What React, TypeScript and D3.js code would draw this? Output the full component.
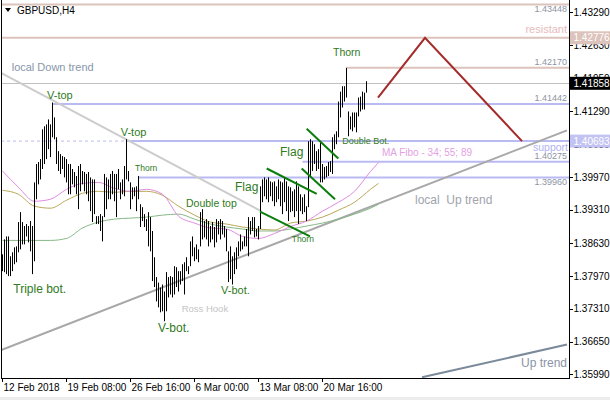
import * as d3 from "d3";

// ---- bars (H4, one per 4 hours, high / low) ----
const barHigh = [
  1.3841, 1.3871, 1.3877, 1.3877, 1.3837, 1.3845, 1.3855, 1.3857, 1.3906, 1.3926,
  1.3906, 1.3898, 1.3902, 1.3898, 1.3908, 1.3898, 1.3986, 1.4023, 1.4027, 1.4033,
  1.4093, 1.4099, 1.4103, 1.4113, 1.4103, 1.4147, 1.4117, 1.4077, 1.4049, 1.4043,
  1.4039, 1.4037, 1.4033, 1.4023, 1.4023, 1.4013, 1.4007, 1.3999, 1.4019, 1.4023,
  1.4009, 1.4007, 1.4003, 1.4007, 1.3996, 1.3992, 1.3992, 1.3918, 1.3918, 1.3922,
  1.3918, 1.4003, 1.3996, 1.3992, 1.4003, 1.4009, 1.4003, 1.4003, 1.4013, 1.3986,
  1.3992, 1.4019, 1.4073, 1.4009, 1.3986, 1.3976, 1.3976, 1.3978, 1.3999, 1.3942,
  1.3936, 1.3922, 1.3912, 1.3926, 1.3916, 1.3888, 1.3835, 1.3795, 1.3784, 1.3774,
  1.378, 1.3766, 1.3805, 1.3795, 1.3797, 1.3795, 1.3817, 1.3815, 1.3807, 1.3807,
  1.3821, 1.3825, 1.3835, 1.3817, 1.3867, 1.3877, 1.3855, 1.3861, 1.3851, 1.3926,
  1.3932, 1.3908, 1.3912, 1.3908, 1.3898, 1.3906, 1.3896, 1.3912, 1.3908, 1.3912,
  1.3908, 1.3898, 1.3892, 1.3847, 1.3857, 1.3837, 1.3845, 1.3855, 1.3867, 1.3881,
  1.3867, 1.3877, 1.3892, 1.3916, 1.3908, 1.3916, 1.3916, 1.3892, 1.3898, 1.3978,
  1.3992, 1.3996, 1.3992, 1.3996, 1.3988, 1.3986, 1.3988, 1.3978, 1.3992, 1.3988,
  1.3986, 1.3996, 1.3988, 1.3978, 1.3976, 1.3968, 1.3972, 1.3988, 1.3978, 1.3962,
  1.3956, 1.3962, 1.3938, 1.4069, 1.4073, 1.4069, 1.4063, 1.4049, 1.4053, 1.4067,
  1.4023, 1.4017, 1.4019, 1.4027, 1.4029, 1.4077, 1.4083, 1.4089, 1.4149, 1.4169,
  1.418, 1.418, 1.4217, 1.4129, 1.4119, 1.4127, 1.4127, 1.4127, 1.4157, 1.4159,
  1.4169, 1.4167, 1.419,
];
const barLow = [
  1.3807, 1.3805, 1.3801, 1.3797, 1.3797, 1.3807, 1.3821, 1.3825, 1.3845, 1.3851,
  1.3861, 1.3861, 1.3877, 1.3865, 1.3847, 1.3801, 1.3827, 1.3952, 1.3982, 1.3992,
  1.4013, 1.4023, 1.4033, 1.4053, 1.4037, 1.4077, 1.4073, 1.4023, 1.4009, 1.4003,
  1.4013, 1.3996, 1.3986, 1.3962, 1.3962, 1.3982, 1.3976, 1.3962, 1.3932, 1.3968,
  1.3982, 1.3968, 1.3962, 1.3948, 1.3928, 1.3906, 1.3922, 1.3902, 1.3902, 1.3888,
  1.3867, 1.3916, 1.3932, 1.3952, 1.3952, 1.3962, 1.3948, 1.3916, 1.3972, 1.3952,
  1.3962, 1.3958, 1.3992, 1.3988, 1.3932, 1.3952, 1.3958, 1.3928, 1.3952, 1.3896,
  1.3908, 1.3896, 1.3888, 1.3857, 1.3847, 1.3787, 1.3775, 1.3746, 1.3734, 1.3724,
  1.3726, 1.3706, 1.3726, 1.3754, 1.376, 1.3754, 1.376, 1.3775, 1.3766, 1.378,
  1.3787, 1.376, 1.3807, 1.3801, 1.3817, 1.3837, 1.3827, 1.3831, 1.3825, 1.3857,
  1.3871, 1.3875, 1.3871, 1.3857, 1.3865, 1.3871, 1.3855, 1.3865, 1.3881, 1.3871,
  1.3881, 1.3875, 1.3847, 1.3785, 1.3791, 1.378, 1.3801, 1.3811, 1.3837, 1.3847,
  1.3851, 1.3857, 1.3857, 1.3837, 1.3881, 1.3888, 1.3875, 1.3877, 1.3871, 1.3892,
  1.3946, 1.3958, 1.3952, 1.3946, 1.3958, 1.3948, 1.3938, 1.3946, 1.3952, 1.3938,
  1.3922, 1.3946, 1.3928, 1.3908, 1.3926, 1.3928, 1.3916, 1.3928, 1.3902, 1.3928,
  1.3922, 1.3926, 1.3908, 1.3936, 1.3996, 1.4009, 1.4023, 1.4009, 1.4013, 1.3986,
  1.3986, 1.3992, 1.3996, 1.3999, 1.4007, 1.4003, 1.4053, 1.4063, 1.4077, 1.4117,
  1.4137, 1.4149, 1.4157, 1.4079, 1.4093, 1.4089, 1.4097, 1.4087, 1.4119, 1.4129,
  1.4133, 1.4133, 1.4167,
];

const timeTickBars = [0, 32, 64, 96, 128, 160];
const timeTickLabels = [
  "12 Feb 2018",
  "19 Feb 08:00",
  "26 Feb 16:00",
  "6 Mar 00:00",
  "13 Mar 08:00",
  "20 Mar 16:00",
];
const priceTicks = [
  1.4329, 1.4263, 1.4195, 1.4129, 1.4063, 1.3997, 1.3931, 1.3863, 1.3797,
  1.3731, 1.3665, 1.3599,
];

// moving averages (34 / 55 / 89), read every 8 bars
const maBars = [
  0, 8, 16, 24, 32, 40, 48, 56, 64, 72, 80, 88, 96, 104, 112, 120, 128, 136,
  144, 152, 160, 168, 176, 184, 188,
];
const ma34 = [
  1.4009, 1.3976, 1.3948, 1.3952, 1.3972, 1.3984, 1.3986, 1.3974, 1.3968,
  1.3972, 1.3962, 1.3918, 1.3904, 1.3894, 1.3892, 1.3877, 1.3873, 1.3883,
  1.3897, 1.3908, 1.3928, 1.3946, 1.3968, 1.4008, 1.4026,
];
const ma55 = [
  1.397, 1.3962, 1.3938, 1.3934, 1.395, 1.3964, 1.3968, 1.3966, 1.3968,
  1.3968, 1.396, 1.3938, 1.392, 1.3906, 1.3902, 1.3896, 1.3892, 1.389, 1.3904,
  1.3908, 1.3916, 1.393, 1.3946, 1.3972, 1.3984,
];
const ma89 = [
  1.3869, 1.3869, 1.3869, 1.3869, 1.3873, 1.3894, 1.3906, 1.3912, 1.3914,
  1.3916, 1.392, 1.3922, 1.3912, 1.3902, 1.3896, 1.3892, 1.3888, 1.3888,
  1.3892, 1.3898, 1.3904, 1.3912, 1.3922, 1.3934, 1.3942,
];

const lastPrice = 1.41858;

// horizontal levels and the bar each one starts from (null = left edge)
const resistLevels = [1.43448, 1.42776, 1.4217];
const resistFrom: (number | null)[] = [null, null, 172];
const supportLevels = [1.41442, 1.40693, 1.40275, 1.3996];
const supportFrom = [25, 62, 150, 68];

// drawn lines as [bar, price] points
const downTrend: [number, number][] = [[-1.25, 1.4208], [129.75, 1.3927]];
const localUpTrend: [number, number][] = [[-1.25, 1.3647], [282.25, 1.4091]];
const upTrend: [number, number][] = [[209.75, 1.3593], [282.25, 1.3659]];
const projection: [number, number][] = [
  [187.75, 1.4157],
  [211.25, 1.42776],
  [259.75, 1.40693],
];
const flagLines: [number, number][][] = [
  [[128.75, 1.3927], [153.75, 1.3877]],
  [[132.1, 1.4014], [157.1, 1.3963]],
  [[149.6, 1.4014], [166.25, 1.3952]],
  [[152.1, 1.4094], [167.9, 1.4034]],
];

const GREEN_TXT = "#2f7a22";
const notes = [
  { t: "local Down trend", b: 4.6, p: 1.421, s: 11, c: "#8797aa" },
  { t: "V-top", b: 22.25, p: 1.4155, s: 11, c: GREEN_TXT },
  { t: "V-top", b: 59.1, p: 1.4079, s: 11, c: GREEN_TXT },
  { t: "Thorn", b: 66.25, p: 1.4008, s: 8.5, c: GREEN_TXT },
  { t: "Double top", b: 91.75, p: 1.3936, s: 10.5, c: GREEN_TXT },
  { t: "Flag", b: 116.25, p: 1.3968, s: 12, c: GREEN_TXT },
  { t: "Flag", b: 138.75, p: 1.4039, s: 12, c: GREEN_TXT },
  { t: "Thorn", b: 144.6, p: 1.3865, s: 8.5, c: GREEN_TXT },
  { t: "Double Bot.", b: 169.9, p: 1.4063, s: 9, c: GREEN_TXT },
  { t: "MA Fibo - 34; 55; 89", b: 189.75, p: 1.4039, s: 10, c: "#e4a0e4" },
  { t: "Thorn", b: 165.25, p: 1.424, s: 10.5, c: GREEN_TXT },
  { t: "Triple bot.", b: 5.4, p: 1.3762, s: 12, c: GREEN_TXT },
  { t: "V-bot.", b: 77.75, p: 1.3685, s: 12, c: GREEN_TXT },
  { t: "V-bot.", b: 109.25, p: 1.376, s: 11, c: GREEN_TXT },
  { t: "Ross Hook", b: 89.6, p: 1.3724, s: 9.5, c: "#c4c4c4" },
  { t: "local  Up trend", b: 206.25, p: 1.3942, s: 12, c: "#a0a4ac" },
  { t: "Up trend", b: 282.25, p: 1.3613, s: 12, c: "#8a94a8", end: true },
  { t: "resistant", b: 282.25, p: 1.4288, s: 11, c: "#e5bcbc", end: true },
  { t: "support", b: 282.75, p: 1.4049, s: 10.5, c: "#b2b2ee", end: true },
  { t: "1.43448", b: 282.25, p: 1.433, s: 9, c: "#8c94a4", end: true },
  { t: "1.42170", b: 282.25, p: 1.4223, s: 9, c: "#8c94a4", end: true },
  { t: "1.41442", b: 282.25, p: 1.415, s: 9, c: "#8c94a4", end: true },
  { t: "1.40275", b: 282.25, p: 1.4033, s: 9, c: "#8c94a4", end: true },
  { t: "1.39960", b: 282.25, p: 1.398, s: 9, c: "#8c94a4", end: true },
];

const W = 610;
const H = 400;
const LEFT = 1;
const RIGHT = 569;
const BOTTOM = 378;
const FONT = "'Liberation Sans', Arial, sans-serif";

export default function App() {
  const x = d3.scaleLinear().domain([-0.75, 283.25]).range([LEFT, RIGHT]);
  const y = d3.scaleLinear().domain([1.3599, 1.4329]).range([374.3, 12.3]);

  const line = d3
    .line<[number, number]>()
    .x((d) => x(d[0]))
    .y((d) => y(d[1]));
  const maLine = d3
    .line<[number, number]>()
    .x((d) => x(d[0]))
    .y((d) => y(d[1]))
    .curve(d3.curveMonotoneX);

  const maPts = (vals: number[]) =>
    maBars.map((b, i) => [b, vals[i]] as [number, number]);

  const boxes = [
    { p: 1.42776, fill: "#dcc3bb" },
    { p: lastPrice, fill: "#000000" },
    { p: 1.40693, fill: "#c3c3f3" },
  ];

  return (
    <svg
      width={W}
      height={H}
      style={{ position: "absolute", left: 0, top: 0, fontFamily: FONT }}
    >
      <defs>
        <clipPath id="plot">
          <rect x={LEFT} y={0} width={RIGHT - LEFT} height={BOTTOM} />
        </clipPath>
      </defs>
      <rect width={W} height={H} fill="#ffffff" />
      <rect y={397} width={W} height={3} fill="#ececec" />

      <g clipPath="url(#plot)">
        {/* resistance levels */}
        {resistLevels.map((p, i) => (
          <line
            key={"r" + i}
            x1={resistFrom[i] === null ? LEFT : x(resistFrom[i] as number)}
            x2={RIGHT}
            y1={y(p)}
            y2={y(p)}
            stroke="#dcc3bb"
            strokeWidth={2}
          />
        ))}
        {/* support levels */}
        {supportLevels.map((p, i) => (
          <line
            key={"s" + i}
            x1={x(supportFrom[i])}
            x2={RIGHT}
            y1={y(p)}
            y2={y(p)}
            stroke="#babaf2"
            strokeWidth={2}
          />
        ))}
        <line
          x1={LEFT}
          x2={x(supportFrom[1])}
          y1={y(supportLevels[1])}
          y2={y(supportLevels[1])}
          stroke="#babaf2"
          strokeDasharray="3,3"
        />
        <line
          x1={LEFT}
          x2={RIGHT}
          y1={Math.round(y(lastPrice)) + 0.5}
          y2={Math.round(y(lastPrice)) + 0.5}
          stroke="#c0c0c0"
        />

        {/* trend lines */}
        <path d={line(downTrend) ?? ""} stroke="#cccccc" strokeWidth={2} fill="none" />
        <path d={line(localUpTrend) ?? ""} stroke="#a8a8a8" strokeWidth={2} fill="none" />
        <path d={line(upTrend) ?? ""} stroke="#7b8a9a" strokeWidth={2} fill="none" />

        {/* moving averages */}
        <path d={maLine(maPts(ma89)) ?? ""} stroke="#86b886" fill="none" />
        <path d={maLine(maPts(ma55)) ?? ""} stroke="#b8a858" fill="none" />
        <path d={maLine(maPts(ma34)) ?? ""} stroke="#e08ae0" fill="none" />

        {/* price bars */}
        {barHigh.map((h, i) => (
          <line
            key={"b" + i}
            x1={x(i)}
            x2={x(i)}
            y1={y(h)}
            y2={Math.max(y(barLow[i]), y(h) + 1)}
            stroke="#000000"
          />
        ))}

        {flagLines.map((f, i) => (
          <path key={"f" + i} d={line(f) ?? ""} stroke="#0a7d0a" strokeWidth={2} fill="none" />
        ))}
        <path d={line(projection) ?? ""} stroke="#a52a2a" strokeWidth={2} fill="none" />

        {notes.map((n, i) => (
          <text
            key={"n" + i}
            x={x(n.b)}
            y={y(n.p)}
            fontSize={n.s}
            fill={n.c}
            textAnchor={n.end ? "end" : "start"}
            style={{ whiteSpace: "pre" }}
          >
            {n.t}
          </text>
        ))}
      </g>

      {/* title */}
      <path d="M5,8 L11,8 L8,12 Z" fill="#000000" />
      <text x={17} y={14} fontSize={10} fill="#000000">
        GBPUSD,H4
      </text>

      {/* frame */}
      <line x1={1.5} x2={1.5} y1={0} y2={BOTTOM + 0.5} stroke="#000000" />
      <line x1={1} x2={RIGHT + 1} y1={BOTTOM + 0.5} y2={BOTTOM + 0.5} stroke="#000000" />
      <line x1={RIGHT + 0.5} x2={RIGHT + 0.5} y1={0} y2={BOTTOM + 1} stroke="#000000" />

      {/* time axis */}
      {timeTickBars.map((b, i) => (
        <g key={"t" + i}>
          <line
            x1={Math.floor(x(b)) + 0.5}
            x2={Math.floor(x(b)) + 0.5}
            y1={BOTTOM}
            y2={BOTTOM + 4}
            stroke="#000000"
          />
          <text x={x(b) + 1} y={391} fontSize={10} fill="#000000">
            {timeTickLabels[i]}
          </text>
        </g>
      ))}

      {/* price axis */}
      {priceTicks.map((p, i) => (
        <g key={"p" + i}>
          <line
            x1={RIGHT}
            x2={RIGHT + 4}
            y1={Math.round(y(p)) + 0.5}
            y2={Math.round(y(p)) + 0.5}
            stroke="#000000"
          />
          <text x={573.5} y={y(p) + 3.6} fontSize={10} fill="#000000">
            {p.toFixed(5)}
          </text>
        </g>
      ))}
      {boxes.map((bx, i) => (
        <g key={"bx" + i}>
          <rect x={RIGHT + 1} y={y(bx.p) - 6.5} width={W - RIGHT - 1} height={13} fill={bx.fill} />
          <text x={573.5} y={y(bx.p) + 3.6} fontSize={10} fill="#ffffff">
            {bx.p.toFixed(5)}
          </text>
        </g>
      ))}
    </svg>
  );
}
